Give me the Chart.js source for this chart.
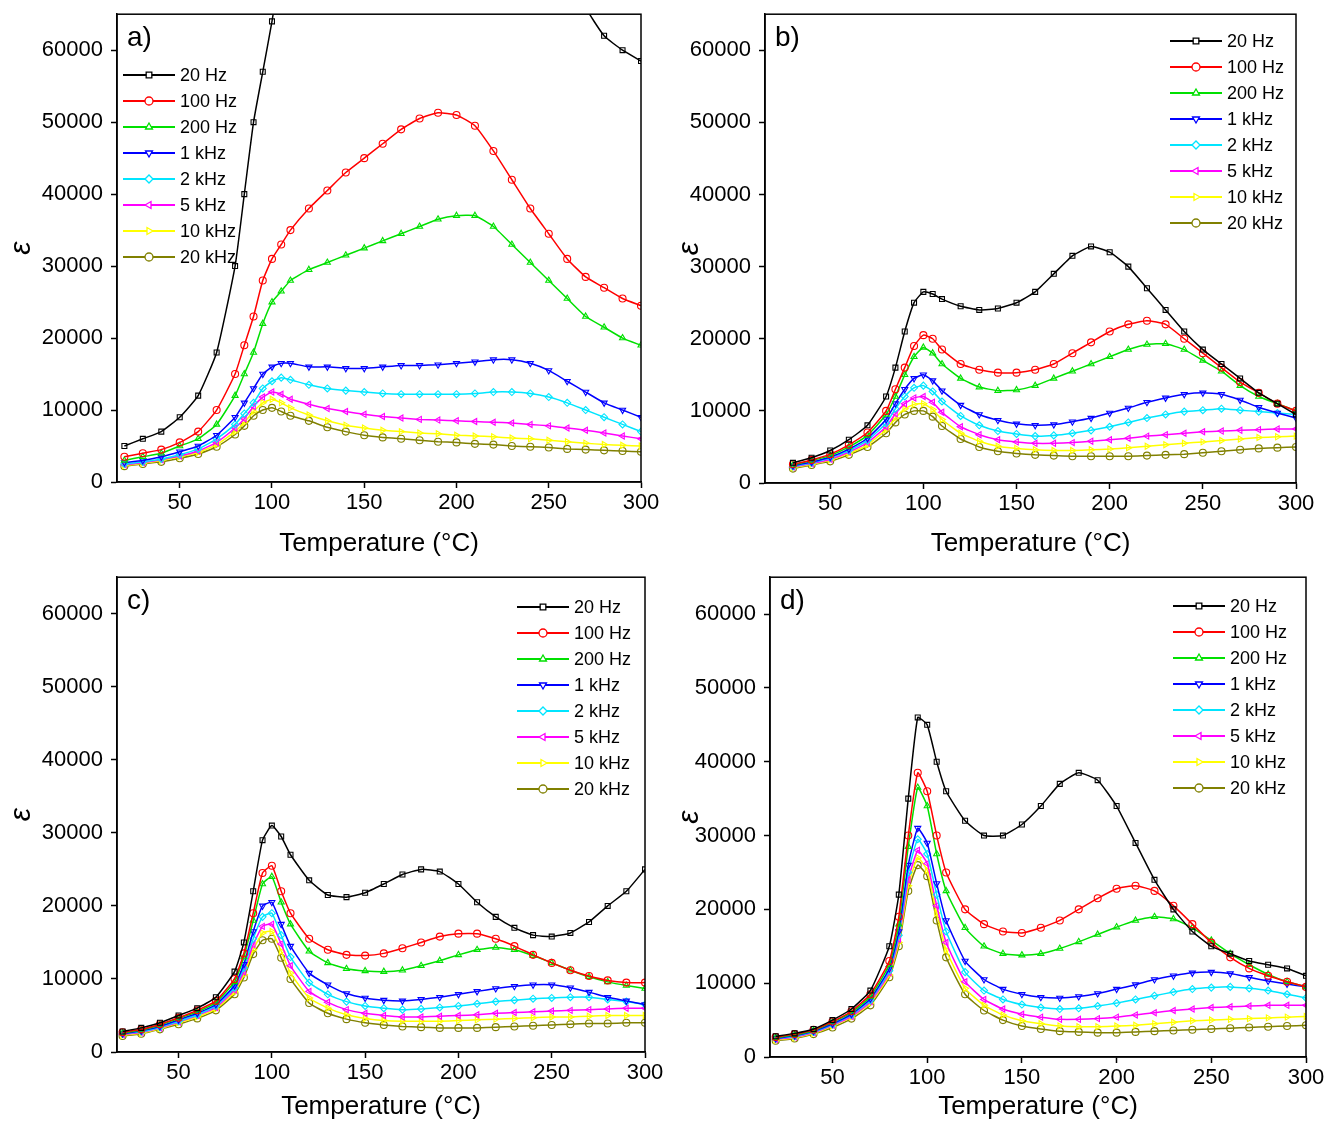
<!DOCTYPE html>
<html>
<head>
<meta charset="utf-8">
<script src="https://cdn.jsdelivr.net/npm/chart.js@4.4.1/dist/chart.umd.min.js"></script>
<style>
  body { margin: 0; background: #fff; overflow: hidden; }
  #wrap { position: relative; width: 1336px; height: 1126px; overflow: hidden; }
  .pane { position: absolute; width: 668px; height: 570px; }
</style>
</head>
<body>
<div id="wrap">
  <div class="pane" style="left:0;top:-7px"><canvas id="ca"></canvas></div>
  <div class="pane" style="left:668px;top:-7px"><canvas id="cb"></canvas></div>
  <div class="pane" style="left:0;top:556px"><canvas id="cc"></canvas></div>
  <div class="pane" style="left:668px;top:556px"><canvas id="cd"></canvas></div>
</div>
<script>
// temperature grid (°C) shared by every panel
var temps = [20,30,40,50,60,70,80,85,90,95,100,105,110,120,130,140,150,160,170,180,190,200,210,220,230,240,250,260,270,280,290,300];
var freqs = ['20 Hz','100 Hz','200 Hz','1 kHz','2 kHz','5 kHz','10 kHz','20 kHz'];
var xTicks = [50,100,150,200,250,300];
var yTicks = [0,10000,20000,30000,40000,50000,60000];

// permittivity values, in thousands
// panel a
var a20Hz  = [5,6,7,9,12,18,30,40,50,57,64,72,80,90,95,98,100,100,100,100,100,100,100,100,100,100,95,75,66,62,60,58.5];
var a100Hz = [3.5,4,4.5,5.5,7,10,15,19,23,28,31,33,35,38,40.5,43,45,47,49,50.5,51.3,51,49.5,46,42,38,34.5,31,28.5,27,25.5,24.5];
var a200Hz = [3,3.5,4,5,6,8,12,15,18,22,25,26.5,28,29.5,30.5,31.5,32.5,33.5,34.5,35.5,36.5,37,37,35.5,33,30.5,28,25.5,23,21.5,20,19];
var a1k    = [2.7,3,3.5,4.2,5,6.5,9,11,13,15,16,16.5,16.5,16,16,15.8,15.8,16,16.2,16.2,16.3,16.5,16.7,17,17,16.5,15.5,14,12.5,11,10,9];
var a2k    = [2.5,2.8,3.2,3.8,4.6,6,8,9.5,11,13,14,14.5,14.2,13.5,13,12.7,12.5,12.3,12.2,12.2,12.2,12.2,12.3,12.5,12.5,12.3,11.8,11,10,9,8,7];
var a5k    = [2.4,2.7,3.1,3.6,4.3,5.5,7.5,8.8,10.5,11.8,12.5,12.2,11.5,10.8,10.2,9.8,9.4,9.1,8.9,8.7,8.6,8.5,8.4,8.3,8.2,8,7.8,7.5,7.2,6.8,6.4,6];
var a10k   = [2.3,2.6,3,3.5,4.1,5.2,7,8.3,9.8,11,11.5,11,10.3,9.3,8.5,7.9,7.5,7.2,7,6.8,6.7,6.5,6.4,6.3,6.1,6,5.8,5.6,5.4,5.2,5.1,5];
var a20k   = [2.2,2.5,2.8,3.3,3.9,4.9,6.6,7.8,9.2,10,10.3,9.8,9.2,8.5,7.6,7,6.5,6.2,6,5.8,5.6,5.5,5.3,5.2,5,4.9,4.8,4.6,4.5,4.4,4.3,4.2];
// panel b
var b20Hz  = [null,2.8,3.5,4.5,6,8,12,16,21,25,26.5,26.2,25.5,24.5,24,24.2,25,26.5,29,31.5,32.8,32,30,27,24,21,18.5,16.5,14.5,12.5,11,9.5];
var b100Hz = [null,2.6,3.2,4,5.3,7,10,13,16,19,20.5,20,18.5,16.5,15.7,15.3,15.3,15.7,16.5,18,19.5,21,22,22.5,22,20,18,16,14,12.5,11,10];
var b200Hz = [null,2.5,3.1,3.8,5,6.6,9.5,12,15,17.5,18.8,18,16.5,14.5,13.3,12.8,12.9,13.5,14.5,15.5,16.5,17.5,18.5,19.2,19.3,18.5,17,15.5,13.5,12,11,10];
var b1k    = [null,2.4,2.9,3.6,4.7,6.2,8.8,11,13,14.5,15,14.2,12.8,10.8,9.5,8.7,8.2,8,8.1,8.5,9,9.7,10.4,11.2,11.8,12.3,12.5,12.3,11.5,10.5,9.7,9];
var b2k    = [null,2.3,2.8,3.5,4.5,5.9,8.3,10.3,12,13.2,13.5,12.7,11.3,9.3,8,7.2,6.8,6.5,6.6,6.9,7.3,7.8,8.4,9,9.5,9.9,10.1,10.3,10.1,9.9,9.7,9.5];
var b5k    = [null,2.2,2.7,3.3,4.3,5.6,7.8,9.6,11,11.8,12,11.2,9.8,7.8,6.7,6,5.7,5.5,5.5,5.6,5.8,6,6.2,6.5,6.7,6.9,7.1,7.2,7.3,7.4,7.5,7.5];
var b10k   = [null,2.1,2.6,3.2,4.1,5.3,7.4,9,10.3,10.9,11,10.2,8.8,6.9,5.8,5.1,4.8,4.6,4.5,4.5,4.6,4.7,4.9,5.1,5.3,5.5,5.7,5.9,6.1,6.3,6.4,6.5];
var b20k   = [null,2,2.5,3,3.9,5,6.9,8.4,9.5,10,10,9.2,7.9,6.1,5,4.4,4.1,3.9,3.8,3.7,3.7,3.7,3.7,3.8,3.9,4,4.2,4.4,4.6,4.8,4.9,5];
// panel c
var c20Hz  = [2.8,3.3,4,5,6,7.5,11,15,22,29,31,29.5,27,23.5,21.5,21.2,21.8,23,24.3,25,24.7,23,20.5,18.5,17,16,15.8,16.3,17.8,20,22,25];
var c100Hz = [2.7,3.1,3.8,4.7,5.7,7,10,13.5,19,24.5,25.5,22,19,15.5,14,13.3,13.2,13.5,14.2,15,15.8,16.2,16.2,15.5,14.5,13.3,12.2,11.2,10.4,9.8,9.5,9.5];
var c200Hz = [2.6,3,3.7,4.6,5.5,6.8,9.6,13,18,23,24,20.5,17.5,13.8,12.2,11.4,11.1,11,11.2,11.8,12.5,13.3,14,14.3,14,13.2,12.2,11.2,10.3,9.6,9.1,8.7];
var c1k    = [2.5,2.9,3.5,4.4,5.3,6.5,9.1,12,16.5,20,20.5,17.5,14.5,10.8,9.2,8,7.4,7.1,7,7.2,7.5,7.9,8.3,8.7,9,9.2,9.2,8.8,8.2,7.5,7,6.5];
var c2k    = [2.5,2.8,3.4,4.2,5.1,6.3,8.8,11.5,15.5,18.5,19,16,13,9.5,7.9,6.9,6.3,6,5.8,5.9,6.1,6.3,6.6,6.9,7.1,7.3,7.4,7.5,7.5,7.2,6.9,6.5];
var c5k    = [2.4,2.7,3.3,4.1,5,6.1,8.5,11,14.7,17.2,17.5,14.8,11.8,8.3,6.8,5.8,5.3,5,4.8,4.8,4.9,5,5.1,5.3,5.4,5.5,5.6,5.7,5.8,5.9,6,6];
var c10k   = [2.3,2.6,3.2,4,4.8,5.9,8.2,10.6,14,16.3,16.5,13.8,10.8,7.4,6,5.1,4.6,4.3,4.2,4.2,4.2,4.3,4.4,4.5,4.6,4.7,4.8,4.8,4.9,5,5,5];
var c20k   = [2.2,2.5,3.1,3.8,4.6,5.7,7.9,10.2,13.4,15.3,15.5,12.9,10,6.7,5.3,4.5,4,3.7,3.5,3.4,3.3,3.3,3.3,3.4,3.5,3.6,3.7,3.8,3.9,3.9,4,4];
// panel d
var d20Hz  = [2.8,3.2,3.8,5,6.5,9,15,22,35,46,45,40,36,32,30,30,31.5,34,37,38.5,37.5,34,29,24,20,17,15,14,13,12.5,12,11];
var d100Hz = [2.7,3.1,3.7,4.8,6.2,8.5,13,19,30,38.5,36,30,25,20,18,17,16.8,17.5,18.5,20,21.5,22.8,23.2,22.5,20.5,18,15.5,13.5,12,11,10.2,9.5];
var d200Hz = [2.6,3,3.6,4.7,6,8.2,12.5,18,28.5,36.5,34,27.5,22.5,17.5,15,14,13.8,14,14.7,15.6,16.6,17.6,18.5,19,18.7,17.5,15.8,14,12.5,11.2,10.2,9.5];
var d1k    = [2.5,2.9,3.5,4.5,5.8,7.9,12,17,26,31,29,23.5,18.5,13,10.5,9.2,8.5,8.1,8,8.2,8.6,9.2,9.8,10.5,11,11.4,11.5,11.3,10.8,10.3,9.9,9.5];
var d2k    = [2.5,2.8,3.4,4.4,5.7,7.7,11.7,16.5,25,29.5,27.5,22,17,11.5,9,7.8,7.1,6.7,6.5,6.6,6.9,7.3,7.8,8.3,8.8,9.2,9.4,9.5,9.3,9,8.5,8];
var d5k    = [2.4,2.7,3.3,4.3,5.5,7.5,11.4,16,24,28,26.2,20.5,15.5,10.2,7.8,6.5,5.8,5.4,5.1,5.1,5.2,5.4,5.7,6,6.3,6.5,6.7,6.8,6.9,7,7,7];
var d10k   = [2.3,2.6,3.2,4.2,5.4,7.3,11.1,15.5,23.2,27,25.3,19.5,14.5,9.3,7,5.7,4.9,4.5,4.2,4.1,4.1,4.2,4.3,4.5,4.7,4.9,5,5.1,5.2,5.3,5.4,5.5];
var d20k   = [2.2,2.5,3.1,4,5.2,7,10.8,15,22.5,26,24.5,18.5,13.5,8.5,6.3,5,4.2,3.8,3.5,3.4,3.3,3.3,3.4,3.5,3.6,3.7,3.8,3.9,4,4.1,4.2,4.3];

var colors = ['#000000','#ff0000','#00e000','#0000ff','#00e5ff','#ff00ff','#ffff00','#808000'];
var markers = [['rect',0],['circle',0],['triangle',0],['triangle',180],['rectRot',0],['triangle',-90],['triangle',90],['circle',0]];

var font = "'Liberation Sans', Arial, sans-serif";

var framePlugin = {
    id: 'frame',
    afterDraw: function (chart) {
        var a = chart.chartArea, ctx = chart.ctx;
        ctx.save();
        ctx.strokeStyle = '#000';
        ctx.lineWidth = 1.5;
        ctx.strokeRect(a.left, a.top, a.right - a.left, a.bottom - a.top);
        var o = chart.options.plugins.frame;
        ctx.fillStyle = '#000';
        ctx.font = '28px ' + font;
        ctx.textBaseline = 'top';
        ctx.fillText(o.label, a.left + o.lx, a.top + o.ly);
        // legend
        ctx.font = '18px ' + font;
        ctx.textBaseline = 'middle';
        chart.data.datasets.forEach(function (ds, i) {
            var y = o.legY + i * 26, x = o.legX;
            ctx.strokeStyle = ds.borderColor;
            ctx.lineWidth = 2;
            ctx.beginPath(); ctx.moveTo(x, y); ctx.lineTo(x + 52, y); ctx.stroke();
            ctx.fillStyle = '#fff';
            ctx.lineWidth = 1.3;
            Chart.helpers.drawPoint(ctx, {pointStyle: ds.pointStyle, rotation: ds.rotation,
                radius: 4, borderWidth: 1.3}, x + 26, y);
            ctx.fillStyle = '#000';
            ctx.fillText(ds.label, x + 57, y + 1);
        });
        ctx.restore();
    }
};

function makePanel(id, series, cfg) {
    var datasets = series.map(function (s, i) {
        return {
            label: freqs[i],
            data: temps.map(function (t, k) {
                return s[k] === null ? null : {x: t, y: s[k] * 1000};
            }).filter(function (p) { return p !== null; }),
            borderColor: colors[i],
            backgroundColor: '#fff',
            borderWidth: 1.5,
            pointStyle: markers[i][0],
            rotation: markers[i][1],
            pointRadius: 3.5,
            pointBorderWidth: 1.1,
            pointBackgroundColor: 'rgba(255,255,255,0)',
            tension: 0.15
        };
    });
    new Chart(document.getElementById(id), {
        type: 'line',
        data: {datasets: datasets},
        plugins: [framePlugin],
        options: {
            responsive: true, maintainAspectRatio: false, animation: false,
            layout: {padding: {top: cfg.top, right: cfg.right, left: 0, bottom: 0}},
            plugins: {
                legend: {display: false}, tooltip: {enabled: false},
                frame: {label: cfg.label, lx: 10, ly: 10, legX: cfg.legX, legY: cfg.legY}
            },
            scales: {
                x: {
                    type: 'linear', min: cfg.xmin, max: 300,
                    afterBuildTicks: function (s) { s.ticks = xTicks.map(function (v) { return {value: v}; }); },
                    afterFit: function (s) { s.height = cfg.xh; },
                    grid: {drawOnChartArea: false, color: '#000', tickLength: 6, tickWidth: 1.5},
                    border: {color: '#000', width: 1.5},
                    ticks: {color: '#000', font: {family: font, size: 22}, maxRotation: 0, padding: 2},
                    title: {display: true, text: 'Temperature (°C)', color: '#000',
                            font: {family: font, size: 26}, padding: {top: 0}}
                },
                y: {
                    type: 'linear', min: 0, max: 65000,
                    afterBuildTicks: function (s) { s.ticks = yTicks.map(function (v) { return {value: v}; }); },
                    afterFit: function (s) { s.width = cfg.yw; },
                    grid: {drawOnChartArea: false, color: '#000', tickLength: 6, tickWidth: 1.5},
                    border: {color: '#000', width: 1.5},
                    ticks: {color: '#000', font: {family: font, size: 22}, padding: 8,
                            callback: function (v) { return String(v); }},
                    title: {display: true, text: 'ε', color: '#000',
                            font: {family: font, size: 30, style: 'italic'}, padding: {bottom: 0}}
                }
            }
        }
    });
}

makePanel('ca', [a20Hz,a100Hz,a200Hz,a1k,a2k,a5k,a10k,a20k],
    {label: 'a)', xmin: 16, top: 7, right: 27, xh: 81, yw: 117, legX: 123, legY: 82});
makePanel('cb', [b20Hz,b100Hz,b200Hz,b1k,b2k,b5k,b10k,b20k],
    {label: 'b)', xmin: 15, top: 5, right: 40, xh: 80, yw: 97, legX: 502, legY: 48});
makePanel('cc', [c20Hz,c100Hz,c200Hz,c1k,c2k,c5k,c10k,c20k],
    {label: 'c)', xmin: 17, top: 8, right: 23, xh: 74, yw: 117, legX: 517, legY: 51});
makePanel('cd', [d20Hz,d100Hz,d200Hz,d1k,d2k,d5k,d10k,d20k],
    {label: 'd)', xmin: 17, top: 7, right: 30, xh: 69, yw: 102, legX: 505, legY: 50});
</script>
</body>
</html>
